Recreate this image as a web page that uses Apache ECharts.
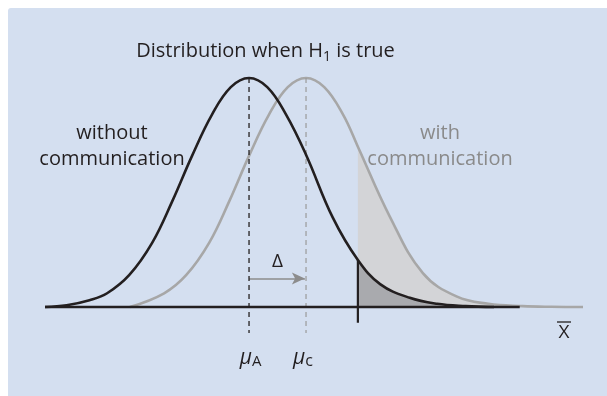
<!DOCTYPE html>
<html>
<head>
<meta charset="utf-8">
<script src="https://cdn.jsdelivr.net/npm/echarts@6/dist/echarts.min.js"></script>
<style>
  html, body { margin: 0; padding: 0; background: #ffffff; }
  #chart { width: 607px; height: 396px; }
</style>
</head>
<body>
<div id="chart"></div>
<script>
// Sampling distributions of the mean, x in units of the shift Δ, height relative to the peak.
const withoutX = [-3.58, -3.2, -2.8, -2.49, -2.1, -1.7, -1.35, -1.0, -0.65, -0.32, 0, 0.32, 0.65, 1.0, 1.47, 1.91, 2.3, 2.82, 3.3, 3.8, 4.3];
const withoutY = [0, 0.008, 0.03, 0.06, 0.14, 0.28, 0.46, 0.66, 0.84, 0.96, 1, 0.96, 0.84, 0.665, 0.39, 0.205, 0.1, 0.04, 0.014, 0.004, 0];
const withX = [-2.09, -1.49, -1.1, -0.7, -0.35, 0, 0.35, 0.68, 1, 1.32, 1.65, 1.91, 2.47, 3.05, 3.65, 4.2, 4.8, 5.3, 5.86];
const withY = [0, 0.06, 0.14, 0.28, 0.46, 0.66, 0.84, 0.96, 1, 0.96, 0.84, 0.70, 0.395, 0.148, 0.045, 0.014, 0.004, 0.001, 0];

const muA = 0;          // mean without communication
const muC = 1;          // mean with communication
const critical = 1.91;  // rejection boundary
const axisStart = -3.58, axisEnd = 5.86, baselineEnd = 4.75;

const INK = '#231f20';
const GREY = '#a7a7a7';
const GREY_TEXT = '#8a8a8a';
const FONT = '"Open Sans", "Noto Sans", sans-serif';

const pairs = (xs, ys) => xs.map((x, i) => [x, ys[i]]);
const tailFrom = (xs, ys, from) => pairs(xs, ys).filter(p => p[0] >= from);
const atCritical = withoutY[withoutX.indexOf(critical)];
const peakA = Math.max(...withoutY);
const peakC = Math.max(...withY);

const chart = echarts.init(document.getElementById('chart'), null, { renderer: 'canvas' });

const option = {
  backgroundColor: '#ffffff',
  animation: false,
  grid: { left: 45, width: 538, top: 55.1, height: 332.05, containLabel: false },
  xAxis: { type: 'value', min: axisStart, max: axisEnd, show: false },
  yAxis: { type: 'value', min: -0.35, max: 1.1, show: false },
  series: [
    { // upper tail of the "with" distribution
      type: 'line', data: tailFrom(withX, withY, critical), smooth: 0.4, symbol: 'none',
      lineStyle: { width: 0 }, areaStyle: { color: '#d3d4d7', opacity: 1, origin: 0 }, z: 1, silent: true
    },
    { // upper tail of the "without" distribution
      type: 'line', data: tailFrom(withoutX, withoutY, critical), smooth: 0.4, symbol: 'none',
      lineStyle: { width: 0 }, areaStyle: { color: '#a9aaae', opacity: 1, origin: 0 }, z: 2, silent: true
    },
    { // with communication
      type: 'line', data: pairs(withX, withY), smooth: 0.4, symbol: 'none',
      lineStyle: { color: GREY, width: 2.6 }, z: 3, silent: true
    },
    { // mean with communication
      type: 'line', data: [[muC, peakC], [muC, -0.1135]], symbol: 'none',
      lineStyle: { color: '#9a9a9a', width: 1.2, type: [5, 4] }, z: 4, silent: true
    },
    { // horizontal axis
      type: 'line', data: [[axisStart, 0], [baselineEnd, 0]], symbol: 'none',
      lineStyle: { color: INK, width: 2.6 }, z: 5, silent: true
    },
    { // without communication
      type: 'line', data: pairs(withoutX, withoutY), smooth: 0.4, symbol: 'none',
      lineStyle: { color: INK, width: 2.6 }, z: 6, silent: true
    },
    { // mean without communication
      type: 'line', data: [[muA, peakA], [muA, -0.1135]], symbol: 'none',
      lineStyle: { color: INK, width: 1.3, type: [5, 4] }, z: 7, silent: true
    },
    { // rejection boundary
      type: 'line', data: [[critical, -0.0686], [critical, atCritical]], symbol: 'none',
      lineStyle: { color: INK, width: 2.2 }, z: 8, silent: true
    },
    { // shift between the means
      type: 'line', data: [], z: 9, silent: true,
      markLine: {
        silent: true, symbol: ['none', 'arrow'], symbolSize: [9, 13],
        label: { show: false },
        lineStyle: { color: '#8c8c8c', width: 1.5, type: 'solid' },
        data: [[{ coord: [muA, 0.1245] }, { coord: [muC - 0.02, 0.1245] }]]
      }
    }
  ]
};
chart.setOption(option);

const px = (x, y) => chart.convertToPixel({ gridIndex: 0 }, [x, y]);
const pA = px(muA, 0);
const pC = px(muC, 0);
const pShift = px((muA + muC) / 2, 0.1245);

const text = (x, y, str, opts) => ({
  type: 'text', x: x, y: y, silent: true, z: 20,
  style: Object.assign({ text: str, fontFamily: FONT, fontSize: 20, fill: INK, align: 'center', verticalAlign: 'middle' }, opts || {})
});

chart.setOption({
  graphic: [
    { type: 'rect', shape: { x: 8, y: 8, width: 640, height: 420, r: 3 }, style: { fill: '#d4dff0' }, z: -10, silent: true },
    text(265.5, 51, '{a|Distribution when H}{s|1}{a| is true}', {
      rich: {
        a: { fontFamily: FONT, fontSize: 20, fill: INK, lineHeight: 26 },
        s: { fontFamily: FONT, fontSize: 14, fill: INK, lineHeight: 14, verticalAlign: 'bottom' }
      }
    }),
    text(112, 146, 'without\ncommunication', { lineHeight: 26 }),
    text(440, 146, 'with\ncommunication', { lineHeight: 26, fill: GREY_TEXT }),
    text(pShift[0], 262, 'Δ', { fontSize: 19 }),
    text(pA[0] + 1.5, 358, '{m|μ}{s|A}', {
      rich: {
        m: { fontFamily: FONT, fontSize: 21, fontStyle: 'italic', fill: INK, lineHeight: 22 },
        s: { fontFamily: FONT, fontSize: 15, fill: INK, lineHeight: 16, verticalAlign: 'bottom' }
      }
    }),
    text(pC[0] - 3, 358, '{m|μ}{s|c}', {
      rich: {
        m: { fontFamily: FONT, fontSize: 21, fontStyle: 'italic', fill: INK, lineHeight: 22 },
        s: { fontFamily: FONT, fontSize: 16, fill: INK, lineHeight: 16, verticalAlign: 'bottom' }
      }
    }),
    text(564, 333, 'X', { fontSize: 19 }),
    { type: 'line', shape: { x1: 557, y1: 322, x2: 571, y2: 322 }, style: { stroke: INK, lineWidth: 1.3 }, z: 20, silent: true }
  ]
});
</script>
</body>
</html>
